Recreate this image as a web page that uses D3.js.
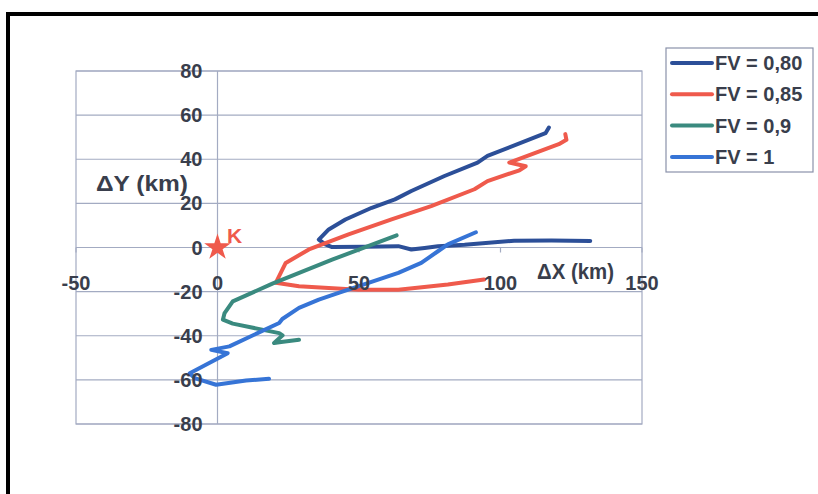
<!DOCTYPE html>
<html><head><meta charset="utf-8">
<script src="https://cdn.jsdelivr.net/npm/d3@7"></script>
<style>body{margin:0;background:#fff}svg{display:block}text{font-family:"Liberation Sans",Arial,sans-serif;font-weight:bold}</style>
</head><body><svg id="c" width="818" height="494"></svg>
<script>
const xTicks = [-50, 0, 50, 100, 150];
const yTicks = [-80, -60, -40, -20, 0, 20, 40, 60, 80];
const seriesNames = ["FV = 0,80", "FV = 0,85", "FV = 0,9", "FV = 1"];
const colors = ["#2c4f98", "#ef5a4c", "#3a8a7f", "#3674d6"];

const fv080X = [117.1,115.9,95.4,91.9,80.2,68.5,62.7,54.5,45.2,39.3,35.8,38.1,40.5,52,63.9,68.5,73.2,77.9,87.3,104.8,118,131.7];
const fv080Y = [54.4,51.8,41.5,38.5,32.4,25.6,21.8,18.0,12.7,8.2,3.6,1.4,0.2,0.3,0.6,-0.9,-0.2,0.6,1.2,3.1,3.2,3.0];
const fv085X = [122.9,123.3,120.6,103.1,108.9,106.7,95.4,90.8,75.5,61.5,46.3,32.3,24.1,20.6,28.8,49.8,63.9,81.4,94.2];
const fv085Y = [51.4,48.8,46.8,38.5,36.8,35,30.1,26.4,18.8,12.7,5.9,-0.9,-7.0,-16,-17.6,-19.1,-19.1,-16.8,-14.5];
const fv09X = [63.3,40.5,19.4,5.4,2.5,1.9,5.4,21.8,23,20,22.5,28.8];
const fv09Y = [5.5,-5.5,-16.4,-24.4,-29.7,-32.7,-34.5,-38.8,-39.8,-43.3,-42.8,-41.8];
const fv1X = [91.3,81.4,77.9,72,63.9,42.8,35.8,28.8,22.9,21.8,4.2,-2.2,3.6,-9.8,-8.1,-0.5,10.1,18.2];
const fv1Y = [6.9,1.4,-1.7,-7,-11.5,-20.6,-23.6,-27.4,-32.4,-34.2,-44.8,-46.4,-47.9,-57,-59.2,-62.2,-60.3,-59.5];

const seriesX = [fv080X, fv085X, fv09X, fv1X];
const seriesY = [fv080Y, fv085Y, fv09Y, fv1Y];

const svg = d3.select("#c");
const x = d3.scaleLinear().domain([-50, 150]).range([76, 642]);
const y = d3.scaleLinear().domain([-80, 80]).range([424, 71]);
const textCol = "#393e4c";
const gridCol = "#a3abc2";

// outer black frame
svg.append("rect").attr("x", 8).attr("y", 14).attr("width", 830).attr("height", 500)
  .attr("fill", "none").attr("stroke", "#000").attr("stroke-width", 4);

// gridlines
svg.append("g").selectAll("line").data(yTicks).join("line")
  .attr("x1", x(-50)).attr("x2", x(150)).attr("y1", d => y(d)).attr("y2", d => y(d))
  .attr("stroke", gridCol).attr("stroke-width", 1.2);
// plot border
svg.append("rect").attr("x", x(-50)).attr("y", y(80)).attr("width", x(150) - x(-50)).attr("height", y(-80) - y(80))
  .attr("fill", "none").attr("stroke", gridCol).attr("stroke-width", 1.2);
// y axis at x=0
svg.append("line").attr("x1", x(0)).attr("x2", x(0)).attr("y1", y(80)).attr("y2", y(-80))
  .attr("stroke", gridCol).attr("stroke-width", 1.2);
// x tick marks at y=0
svg.append("g").selectAll("line").data(xTicks).join("line")
  .attr("x1", d => x(d)).attr("x2", d => x(d)).attr("y1", y(0)).attr("y2", y(0) + 5)
  .attr("stroke", gridCol).attr("stroke-width", 1.2);

// series
const line = d3.line().x(d => x(d[0])).y(d => y(d[1]));
seriesX.forEach((xs, i) => {
  const pts = xs.map((v, j) => [v, seriesY[i][j]]);
  svg.append("path").attr("d", line(pts)).attr("fill", "none")
    .attr("stroke", colors[i]).attr("stroke-width", 4)
    .attr("stroke-linejoin", "round").attr("stroke-linecap", "round");
});

// y tick labels
svg.append("g").selectAll("text").data(yTicks).join("text")
  .attr("x", x(0) - 15).attr("y", d => y(d) + 7).attr("text-anchor", "end")
  .attr("font-size", 20).attr("fill", textCol).text(d => d);
// x tick labels
svg.append("g").selectAll("text").data(xTicks).join("text")
  .attr("x", d => x(d)).attr("y", 290).attr("text-anchor", "middle")
  .attr("font-size", 20).attr("fill", textCol).text(d => d);

// axis titles
svg.append("text").attr("x", 96).attr("y", 191).attr("font-size", 22)
  .attr("textLength", 92).attr("lengthAdjust", "spacingAndGlyphs").attr("fill", textCol).text("ΔY (km)");
svg.append("text").attr("x", 537).attr("y", 279).attr("font-size", 22)
  .attr("textLength", 77).attr("lengthAdjust", "spacingAndGlyphs").attr("fill", textCol).text("ΔX (km)");

// K star
const star = d3.symbol().type(d3.symbolStar).size(220);
svg.append("path").attr("d", star()).attr("transform", `translate(${x(0)},${y(0)})`).attr("fill", "#ef5a4c");
svg.append("text").attr("x", 227).attr("y", 243).attr("font-size", 21).attr("fill", "#ef5a4c").text("K");

// legend
const lg = svg.append("g");
lg.append("rect").attr("x", 666).attr("y", 48).attr("width", 147).attr("height", 124)
  .attr("fill", "#fff").attr("stroke", "#8a92aa").attr("stroke-width", 1.2);
seriesNames.forEach((n, i) => {
  const cy = 63 + i * 31.3;
  lg.append("line").attr("x1", 672).attr("x2", 712).attr("y1", cy).attr("y2", cy)
    .attr("stroke", colors[i]).attr("stroke-width", 4).attr("stroke-linecap", "round");
  lg.append("text").attr("x", 715).attr("y", cy + 7).attr("font-size", 20).attr("fill", textCol).text(n);
});
</script></body></html>
